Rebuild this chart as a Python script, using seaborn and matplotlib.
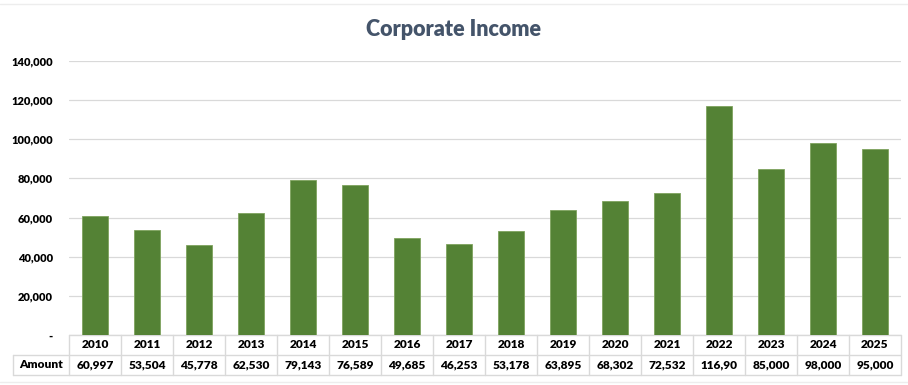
import matplotlib
matplotlib.use("Agg")
import matplotlib.pyplot as plt
import matplotlib.transforms as mtransforms
from matplotlib.ticker import FuncFormatter
import seaborn as sns
import pandas as pd

years = ["2010", "2011", "2012", "2013", "2014", "2015", "2016", "2017",
         "2018", "2019", "2020", "2021", "2022", "2023", "2024", "2025"]
amounts = [60997, 53504, 45778, 62530, 79143, 76589, 49685, 46253,
           53178, 63895, 68302, 72532, 116900, 85000, 98000, 95000]
row_label = "Amount"
title = "Corporate Income"

BAR = "#548235"
GRID = "#D9D9D9"
TITLE_C = "#44546A"
WEIGHT = "heavy"

sns.set_theme(style="white")
plt.rcParams["font.family"] = ["Lato", "DejaVu Sans"]

W, H = 908, 385
fig = plt.figure(figsize=(W / 100, H / 100), dpi=100)
fig.patch.set_facecolor("white")

# plot area in pixel terms (left, top, right, bottom)
px_l, px_t, px_r, px_b = 69, 61, 901, 335
ax = fig.add_axes([px_l / W, 1 - px_b / H, (px_r - px_l) / W, (px_b - px_t) / H])

df = pd.DataFrame({"year": years, "amount": amounts})
sns.barplot(data=df, x="year", y="amount", color=BAR, width=0.5,
            saturation=1, edgecolor="#7FA35E", linewidth=0.6, ax=ax, zorder=3)

ax.set_xlim(-0.5, len(years) - 0.5)
ax.set_ylim(0, 140000)
ax.set_yticks(range(0, 140001, 20000))
ax.yaxis.set_major_formatter(FuncFormatter(lambda v, p: "-" if v == 0 else f"{int(v):,}"))
ax.tick_params(axis="y", length=0, pad=11.5, labelsize=8, labelcolor="black")
for t in ax.get_yticklabels():
    t.set_fontweight(WEIGHT)
ax.set_xticks([])
ax.set_xlabel("")
ax.set_ylabel("")
ax.grid(axis="y", color=GRID, linewidth=0.9, zorder=0)
for s in ax.spines.values():
    s.set_visible(False)

# data table underneath the bars
trans = mtransforms.blended_transform_factory(ax.transData, ax.transAxes)
plot_h = px_b - px_t
cat_px = (px_r - px_l) / len(years)
row1 = -20 / plot_h
row2 = -40 / plot_h
left_edge = -0.5 - (px_l - 13) / cat_px
n = len(years)
lkw = dict(color=GRID, linewidth=1.0, clip_on=False, transform=trans, zorder=1)

ax.plot([-0.5, n - 0.5], [0, 0], **lkw)
ax.plot([left_edge, n - 0.5], [row1, row1], **lkw)
ax.plot([left_edge, n - 0.5], [row2, row2], **lkw)
ax.plot([left_edge, left_edge], [row1, row2], **lkw)
for i in range(n + 1):
    ax.plot([i - 0.5, i - 0.5], [0, row2], **lkw)

tkw = dict(transform=trans, ha="center", va="center", fontsize=8.6,
           fontweight=WEIGHT, color="black", clip_on=False)
for i, (y, v) in enumerate(zip(years, amounts)):
    ax.text(i, row1 / 2, y, **tkw)
    # each cell fits six characters
    ax.text(i, (row1 + row2) / 2, f"{v:,}"[:6], **tkw)
ax.text((left_edge - 0.5) / 2, (row1 + row2) / 2, row_label, **tkw)

fig.text(453 / W, 1 - 30 / H, title, ha="center", va="center",
         fontsize=15.5, fontweight=WEIGHT, color=TITLE_C)

# faint chart border lines
fig.add_artist(plt.Line2D([0, 1], [1 - 4 / H, 1 - 4 / H], color="#EDEDED", linewidth=1))
fig.add_artist(plt.Line2D([0, 1], [1 - 382 / H, 1 - 382 / H], color="#EDEDED", linewidth=1))

fig.savefig("out.png", dpi=100, facecolor="white")
